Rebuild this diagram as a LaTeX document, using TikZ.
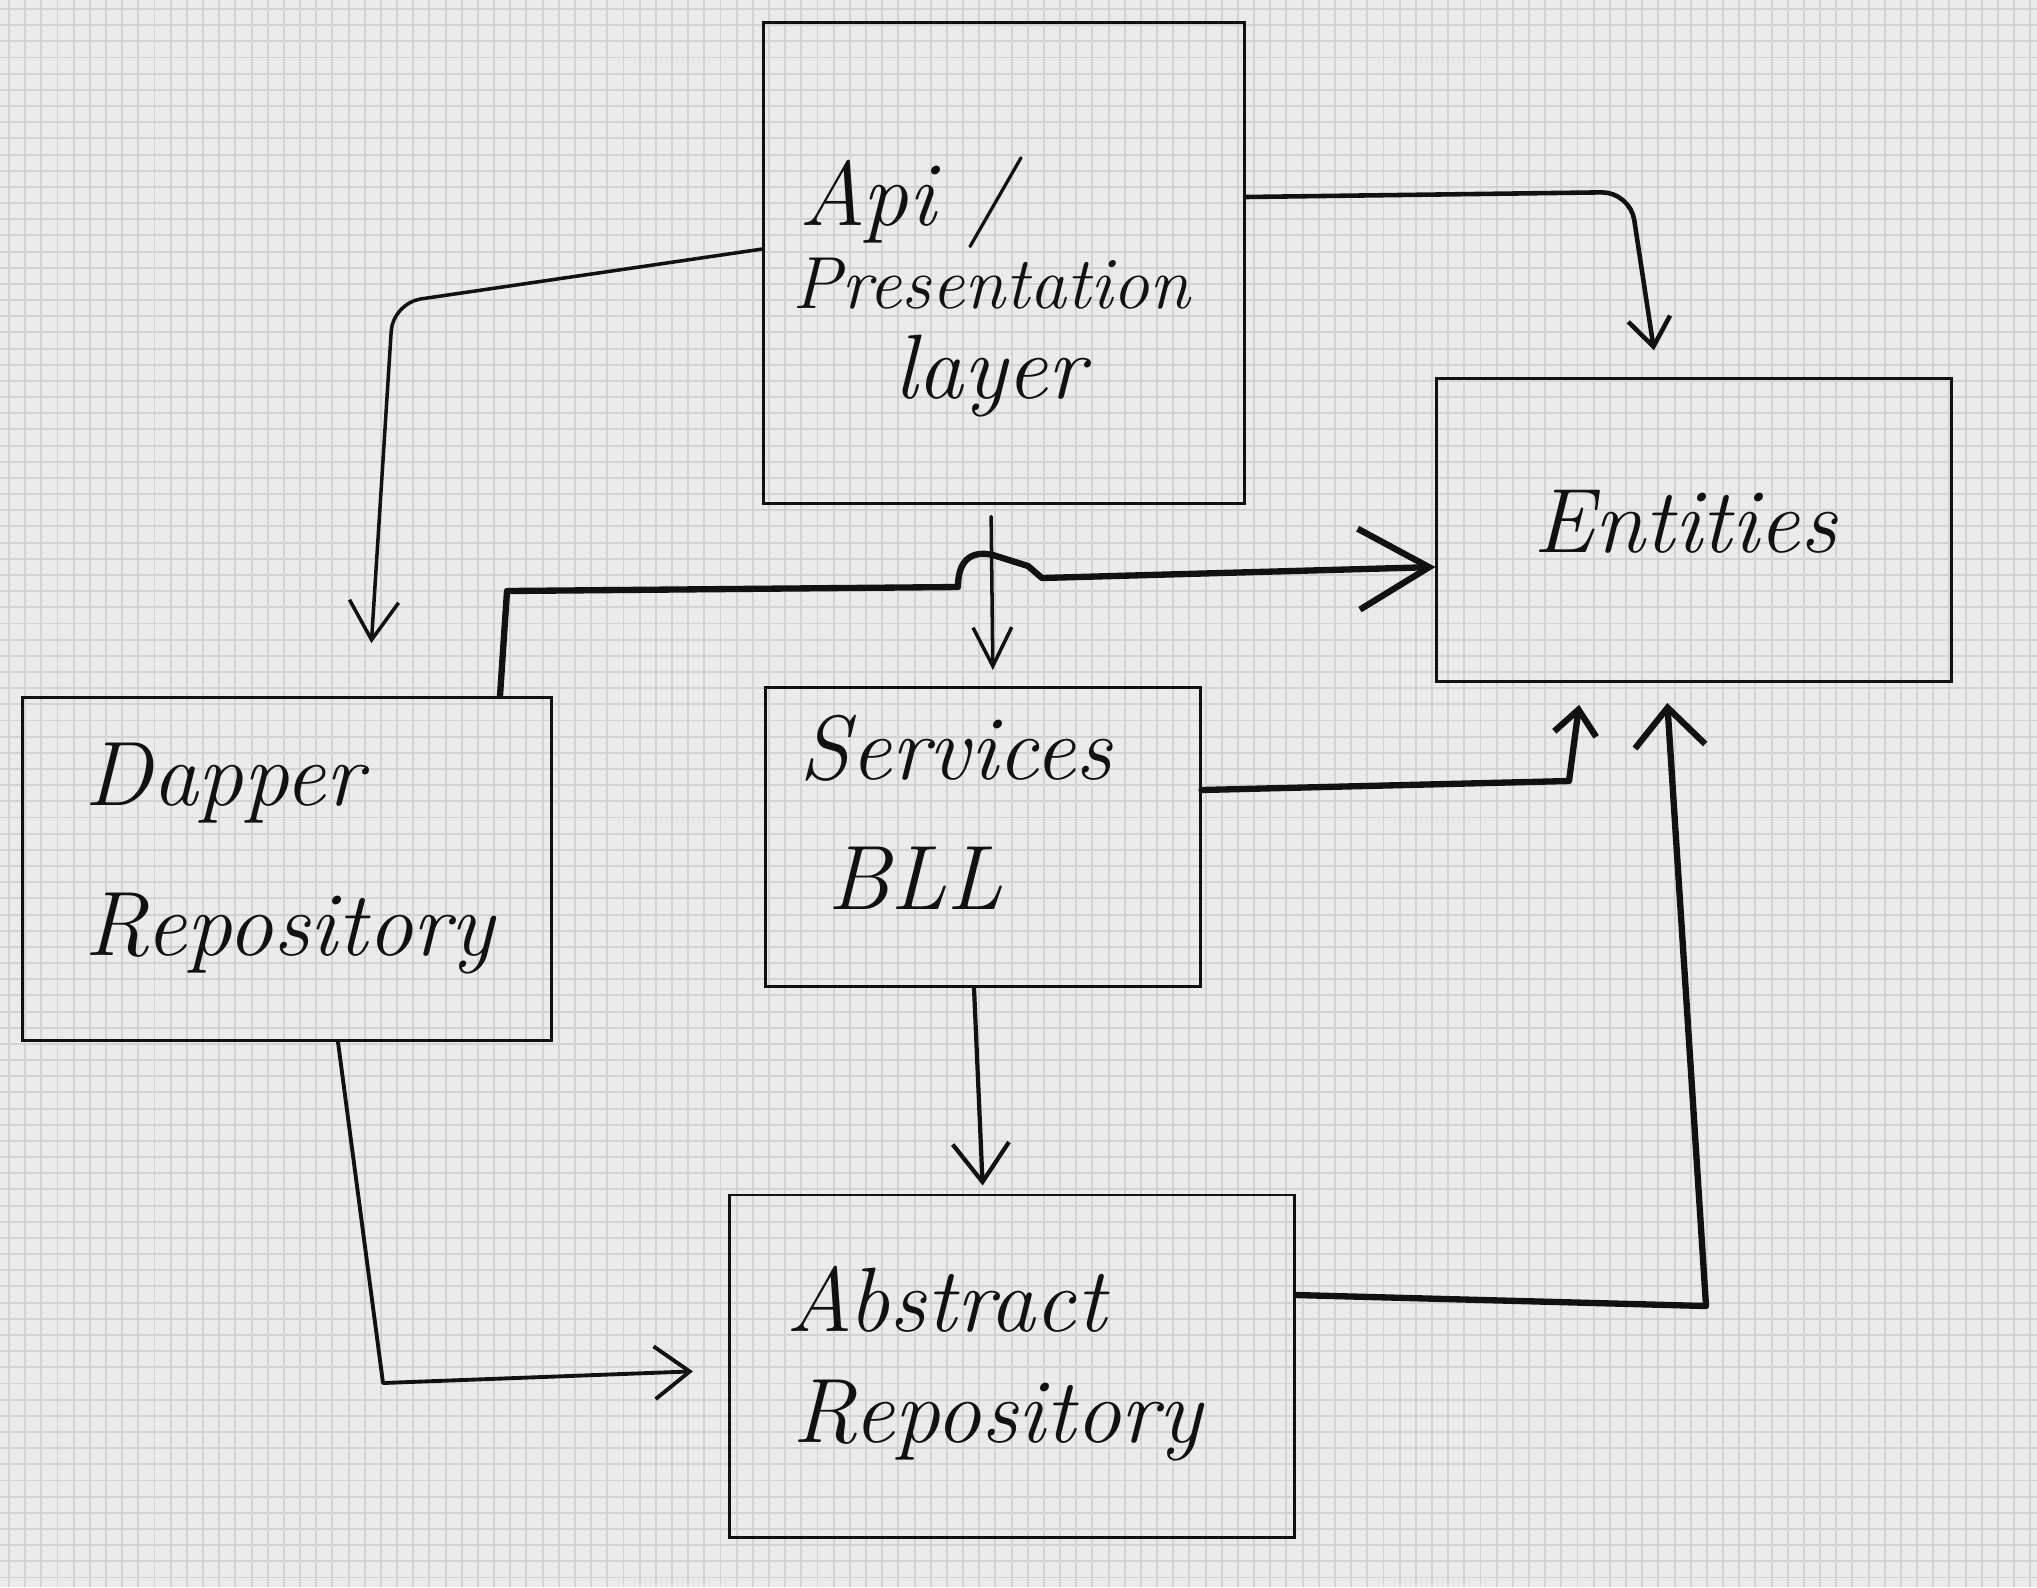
\documentclass[tikz,border=0pt]{standalone}
\usetikzlibrary{arrows.meta}
\definecolor{paper}{HTML}{EBEBEB}
\definecolor{gridgray}{HTML}{D3D3D3}
\definecolor{ink}{HTML}{111111}
\newcommand{\handfont}{\fontsize{26}{30}\selectfont\itshape}
\tikzset{
  box/.style={draw=ink, line width=0.8pt, inner sep=0pt},
  gridline/.style={gridgray, line width=0.55pt},
  label/.style={anchor=base west, inner sep=0pt, text=ink, font=\handfont},
  link/.style={draw=ink, line width=1.1pt, line cap=round, line join=round, -{Straight Barb[length=10pt,width=14pt]}},
  heavylink/.style={draw=ink, line width=1.8pt, line cap=round, line join=round, -{Straight Barb[length=9pt,width=16pt]}}
}
\begin{document}
\begin{tikzpicture}[x=0.01cm, y=-0.01cm]
\useasboundingbox (0,0) rectangle (2037,1587);
\fill[paper] (0,0) rectangle (2037,1587);
\foreach \i in {0,...,125} \draw[gridline] ({9+16.17*\i},0) -- ({9+16.17*\i},1587);
\foreach \i in {0,...,97} \draw[gridline] (0,{9+16.17*\i}) -- (2037,{9+16.17*\i});

% boxes
\node[box, minimum width=4.8cm,  minimum height=4.8cm]  (api) at (1004,263) {};
\node[box, minimum width=5.14cm, minimum height=3.03cm] (ent) at (1694,530) {};
\node[box, minimum width=5.28cm, minimum height=3.43cm] (dap) at (287,869) {};
\node[box, minimum width=4.34cm, minimum height=2.99cm] (svc) at (983,837) {};
\node[box, minimum width=5.65cm, minimum height=3.42cm] (abs) at (1012,1366) {};

% texts
\node[label] (api-a) at (799,225) {Api /};
\node[label, font=\fontsize{21}{25}\selectfont\itshape] (api-b) at (792,308) {Presentation};
\node[label] (api-c) at (894,398) {layer};
\node[label] (ent-a) at (1533,552) {Entities};
\node[label] (dap-a) at (84,805) {Dapper};
\node[label] (dap-b) at (84,955) {Repository};
\node[label] (svc-a) at (799,779) {Services};
\node[label] (svc-b) at (827,909) {BLL};
\node[label] (abs-a) at (786,1331) {Abstract};
\node[label] (abs-b) at (792,1442) {Repository};

% connectors
\draw[link, line width=1pt, rounded corners=8, -{Straight Barb[length=11pt,width=14pt]}, shorten >=0.53cm]
  (api.west |- 0,249) -- (393,303) -- (dap.north -| 368,0);
\draw[link, line width=1.3pt, rounded corners=8, -{Straight Barb[length=8pt,width=12pt]}, shorten >=0.27cm]
  (api.east |- 0,197) -- (1630,192) -- (ent.north -| 1658,0);
\draw[link, line width=1pt, -{Straight Barb[length=11pt,width=11pt]}, shorten <=0.12cm, shorten >=0.16cm]
  (api.south -| 991,0) -- (svc.north -| 993,0);
\draw[heavylink, -{Straight Barb[length=20pt,width=23pt]}]
  (dap.north -| 500,0) -- (507,591) -- (958,587)
  .. controls (958,552) and (980,552) .. (993,555) -- (1028,566) -- (1042,578)
  -- (ent.west |- 0,567);
\draw[heavylink, -{Straight Barb[length=7pt,width=12pt]}, shorten >=0.22cm]
  (svc.east |- 0,790) -- (1569,781) -- (ent.south -| 1582,0);
\draw[link, line width=1.2pt, -{Straight Barb[length=11pt,width=16pt]}, shorten >=0.08cm]
  (svc.south -| 974,0) -- (abs.north -| 983,0);
\draw[link, line width=1.1pt, -{Straight Barb[length=10pt,width=15pt]}, shorten >=0.35cm]
  (dap.south -| 338,0) -- (383,1383) -- (abs.west |- 0,1370);
\draw[heavylink, -{Straight Barb[length=11pt,width=20pt]}, shorten >=0.2cm]
  (abs.east |- 0,1295) -- (1706,1306) -- (ent.south -| 1666,0);
\end{tikzpicture}
\end{document}
